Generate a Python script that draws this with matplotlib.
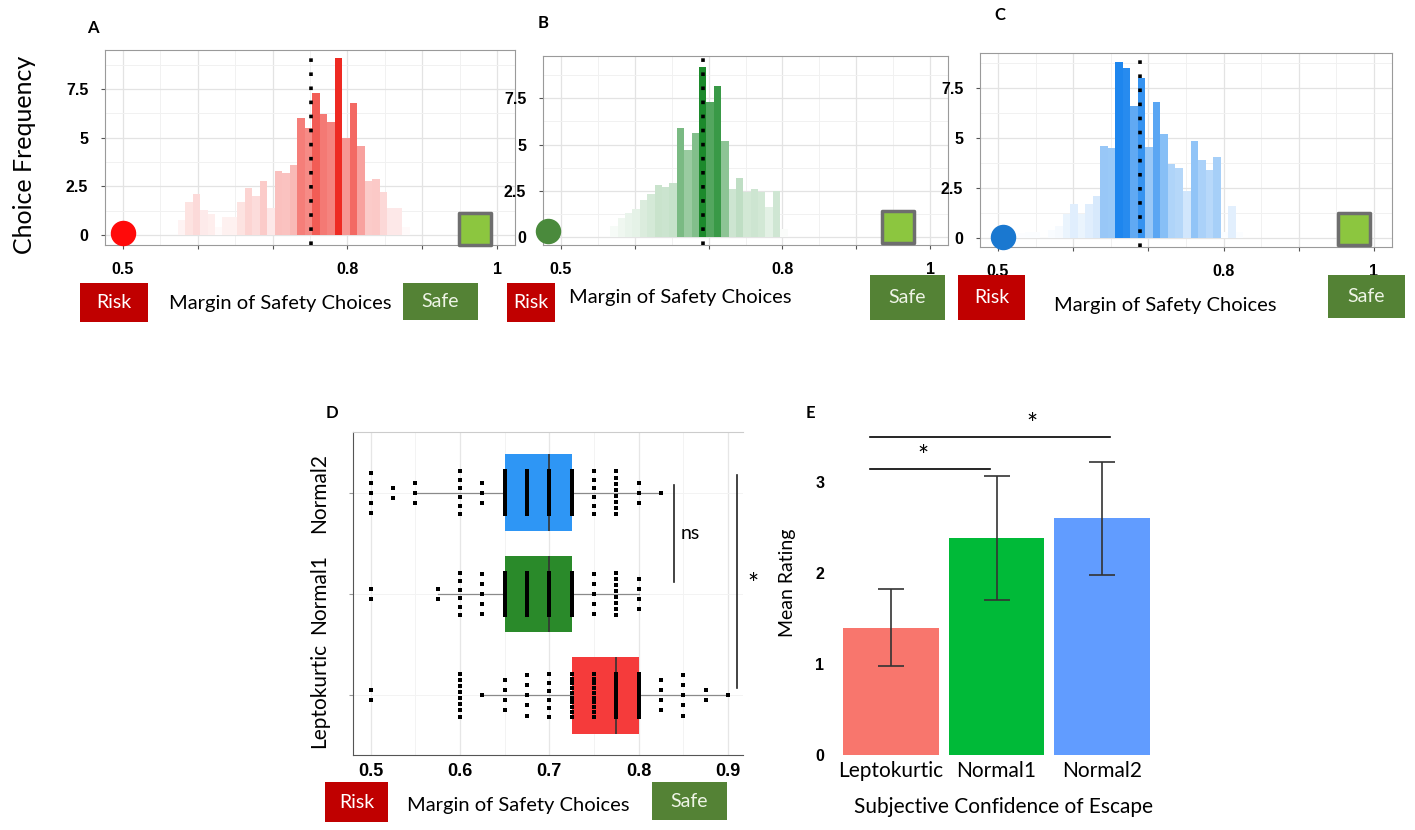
import numpy as np
import matplotlib
matplotlib.use("Agg")
import matplotlib.pyplot as plt
from matplotlib.patches import Rectangle
from matplotlib.colors import to_rgb
from matplotlib import font_manager

plt.rcParams['font.family'] = ['Lato', 'DejaVu Sans']
_names = {f.name for f in font_manager.fontManager.ttflist}
NUM_FONT = 'Liberation Sans Narrow' if 'Liberation Sans Narrow' in _names else 'Liberation Sans'

W, H = 1415, 830

# ---------- A, B, C : choice frequency histograms ----------
bin_w = 0.01
a_start = 0.578
a_counts = [0.8, 1.7, 2.1, 1.3, 1.1, 0.4, 0.95, 0.95, 1.7, 2.4, 2.0, 2.8, 1.4, 3.3, 3.2, 3.6,
            6.0, 5.5, 7.3, 6.2, 5.8, 9.1, 5.0, 6.8, 4.6, 2.8, 2.9, 2.2, 1.4, 1.4, 0.4]
b_start = 0.572
b_counts = [0.6, 1.0, 1.3, 1.5, 2.0, 2.3, 2.8, 2.7, 2.9, 5.9, 4.7, 5.6, 9.2, 7.3, 8.2, 5.2,
            2.6, 3.2, 2.4, 2.6, 2.4, 1.6, 2.5, 0.4]
c_start = 0.531
c_counts = [0.25, 0.3, 0.3, 0.0, 0.4, 0.6, 1.2, 1.7, 1.2, 1.7, 2.1, 4.6, 4.5, 8.8, 8.5, 6.6,
            8.0, 4.55, 6.8, 5.2, 3.7, 3.5, 2.35, 4.85, 3.9, 3.4, 4.05, 0.3, 1.6, 0.3]
hist_medians = [0.752, 0.692, 0.689]
hist_colors = ['#ee2a22', '#1c8a2c', '#1e86ee']
risk_dot_colors = ['#ff0a0a', '#4a8a3c', '#1a78d0']
risk_icon = [(0.5, 0.1), (0.483, 0.3), (0.507, 0.05)]
safe_icon = [(0.97, 0.3), (0.956, 0.54), (0.973, 0.45)]
x_ticks = [0.5, 0.6, 0.7, 0.8, 0.9, 1.0]
x_tick_labels = ['0.5', '', '', '0.8', '', '1']
y_ticks = [0, 2.5, 5, 7.5]
y_tick_labels = ['0', '2.5', '5', '7.5']

# ---------- D : box plot ----------
groups = ['Leptokurtic', 'Normal1', 'Normal2']
box_q1 = [0.725, 0.65, 0.65]
box_med = [0.775, 0.70, 0.70]
box_q3 = [0.80, 0.725, 0.725]
whisk_lo = [0.625, 0.575, 0.55]
whisk_hi = [0.90, 0.80, 0.825]
box_colors = ['#f53b3b', '#2a8a2a', '#2e96f5']
mos_levels = [0.5, 0.525, 0.55, 0.575, 0.6, 0.625, 0.65, 0.675, 0.7, 0.725, 0.75,
              0.775, 0.8, 0.825, 0.85, 0.875, 0.9]
lepto_n = [2, 0, 0, 0, 8, 1, 4, 5, 6, 10, 10, 14, 12, 4, 5, 2, 1]
normal1_n = [2, 0, 0, 2, 6, 5, 12, 12, 14, 12, 5, 8, 4, 0, 0, 0, 0]
normal2_n = [5, 2, 3, 0, 6, 3, 12, 12, 12, 12, 6, 8, 3, 1, 0, 0, 0]

# ---------- E : mean rating ----------
ratings = [1.40, 2.38, 2.60]
rating_err = [0.42, 0.68, 0.62]
rating_colors = ['#f8766d', '#00ba38', '#619cff']
e_sig = [(-0.2, 0.94, 3.14, 0.30), (-0.2, 2.08, 3.49, 1.34)]


fig = plt.figure(figsize=(W / 100, H / 100), dpi=100)


def px_axes(x0, y0, x1, y1):
    return fig.add_axes([x0 / W, 1 - y1 / H, (x1 - x0) / W, (y1 - y0) / H])


def ftext(x, y, s, **kw):
    fig.text(x / W, 1 - y / H, s, **kw)


def tag(x0, y0, x1, y1, label, fc, tc):
    fig.patches.append(Rectangle((x0 / W, 1 - y1 / H), (x1 - x0) / W, (y1 - y0) / H,
                                 transform=fig.transFigure, facecolor=fc, edgecolor='none'))
    ftext((x0 + x1) / 2, (y0 + y1) / 2, label, color=tc, ha='center', va='center', fontsize=14)


def num_labels(ax, axis='both'):
    lbls = []
    if axis in ('both', 'x'):
        lbls += ax.get_xticklabels()
    if axis in ('both', 'y'):
        lbls += ax.get_yticklabels()
    for l in lbls:
        l.set_fontfamily(NUM_FONT)
        l.set_fontweight('bold')


def hist_panel(box, start, counts, i, ylim):
    ax = px_axes(*box)
    counts = np.array(counts)
    centers = start + bin_w * np.arange(len(counts))
    t = (counts / counts.max()) ** 1.2
    rgb = np.array(to_rgb(hist_colors[i]))
    cols = [tuple(1 - ti * (1 - rgb)) for ti in t]
    ax.bar(centers, counts, width=bin_w, color=cols, linewidth=0, zorder=2)
    ax.axvline(hist_medians[i], color='k', lw=2.6, linestyle=(0, (1, 2.9)), zorder=3)
    ax.scatter(*risk_icon[i], s=300, color=risk_dot_colors[i], zorder=4, clip_on=False)
    ax.scatter(*safe_icon[i], s=560, marker='s', color='#8cc63f', edgecolor='#6e6e6e',
               linewidth=2.5, zorder=4, clip_on=False)
    ax.set_xlim(0.476, 1.024)
    ax.set_ylim(*ylim)
    ax.set_xticks(x_ticks)
    ax.set_xticklabels(x_tick_labels)
    ax.set_xticks(np.arange(0.55, 1.0, 0.1), minor=True)
    ax.set_yticks(y_ticks)
    ax.set_yticklabels(y_tick_labels)
    ax.set_yticks(np.arange(1.25, 9.5, 2.5), minor=True)
    ax.grid(which='major', color='#e3e3e3', lw=0.9, zorder=0)
    ax.grid(which='minor', color='#f1f1f1', lw=0.7, zorder=0)
    ax.set_axisbelow(True)
    ax.tick_params(which='minor', length=0)
    ax.tick_params(which='major', length=3, color='#555555', labelsize=11.5, pad=9)
    for s in ax.spines.values():
        s.set_color('#9a9a9a')
    num_labels(ax)
    return ax


hist_panel((105, 50, 515, 245), a_start, a_counts, 0, (-0.5, 9.5))
hist_panel((543, 56, 948, 245), b_start, b_counts, 1, (-0.45, 9.8))
hist_panel((980, 53, 1392, 247), c_start, c_counts, 2, (-0.45, 9.25))

ftext(25, 155, 'Choice Frequency', rotation=90, ha='center', va='center', fontsize=18)
for lx, ly, letter in [(93, 28, 'A'), (543, 23, 'B'), (1000, 15, 'C'), (332, 413, 'D'), (810, 413, 'E')]:
    ftext(lx, ly, letter, ha='center', va='center', fontsize=12, fontweight='bold')

RISK, SAFE = '#c00000', '#548235'
tag(80, 283, 148, 322, 'Risk', RISK, 'white')
ftext(280, 303, 'Margin of Safety Choices', ha='center', va='center', fontsize=14.5)
tag(403, 283, 478, 320, 'Safe', SAFE, '#eef4e6')
tag(507, 283, 555, 322, 'Risk', RISK, 'white')
ftext(680, 297, 'Margin of Safety Choices', ha='center', va='center', fontsize=14.5)
tag(870, 275, 945, 320, 'Safe', SAFE, '#eef4e6')
tag(958, 275, 1025, 320, 'Risk', RISK, 'white')
ftext(1165, 305, 'Margin of Safety Choices', ha='center', va='center', fontsize=14.5)
tag(1328, 275, 1405, 318, 'Safe', SAFE, '#eef4e6')

# ---------- D ----------
axd = px_axes(353, 432, 743, 755)
stats = [dict(med=box_med[g], q1=box_q1[g], q3=box_q3[g], whislo=whisk_lo[g],
              whishi=whisk_hi[g], fliers=[]) for g in range(3)]
bp = axd.bxp(stats, positions=[0, 1, 2], widths=0.76, orientation='horizontal',
             patch_artist=True, showcaps=False,
             boxprops=dict(linewidth=0),
             medianprops=dict(color='#333333', lw=1.2),
             whiskerprops=dict(color='#8a8a8a', lw=0.9), zorder=2)
for patch, c in zip(bp['boxes'], box_colors):
    patch.set_facecolor(c)
for g, counts in enumerate([lepto_n, normal1_n, normal2_n]):
    xs, ys = [], []
    for v, n in zip(mos_levels, counts):
        if n == 0:
            continue
        spread = min(0.21, 0.05 * (n - 1))
        for off in np.linspace(-spread, spread, n):
            xs.append(v)
            ys.append(g + off)
    axd.plot(xs, ys, 's', ms=2.3, mew=0, color='black', zorder=4, clip_on=False)
axd.set_xlim(0.48, 0.917)
axd.set_ylim(-0.59, 2.6)
axd.set_xticks([0.5, 0.6, 0.7, 0.8, 0.9])
axd.set_xticklabels(['0.5', '0.6', '0.7', '0.8', '0.9'])
axd.set_xticks([0.55, 0.65, 0.75, 0.85], minor=True)
axd.set_yticks([0, 1, 2])
axd.set_yticklabels(groups, rotation=90, va='center', fontsize=15)
axd.grid(axis='x', which='major', color='#e6e6e6', lw=0.9, zorder=0)
axd.grid(axis='x', which='minor', color='#f3f3f3', lw=0.7, zorder=0)
axd.grid(axis='y', color='#f3f3f3', lw=0.7, zorder=0)
axd.set_axisbelow(True)
axd.tick_params(which='minor', length=0)
axd.tick_params(axis='x', length=0, labelsize=13, pad=6)
axd.tick_params(axis='y', length=3, color='#999999', pad=14)
axd.spines['right'].set_visible(False)
axd.spines['top'].set_color('#cccccc')
axd.spines['left'].set_color('#555555')
axd.spines['bottom'].set_color('#555555')
num_labels(axd, 'x')
axd.plot([0.840, 0.840], [1.12, 2.08], color='#222222', lw=1.2, clip_on=False)
axd.text(0.858, 1.6, 'ns', fontsize=14, ha='center', va='center')
axd.plot([0.910, 0.910], [0.07, 2.18], color='#222222', lw=1.2, clip_on=False)
axd.text(0.928, 1.08, '*', fontsize=19, ha='center', va='center', clip_on=False)

tag(325, 782, 388, 822, 'Risk', RISK, 'white')
ftext(518, 805, 'Margin of Safety Choices', ha='center', va='center', fontsize=14.5)
tag(652, 782, 727, 820, 'Safe', SAFE, '#eef4e6')

# ---------- E ----------
axe = px_axes(830, 400, 1162, 755)
xpos = np.arange(len(groups))
axe.bar(xpos, ratings, width=0.91, color=rating_colors, zorder=2)
axe.errorbar(xpos, ratings, yerr=rating_err, fmt='none', ecolor='#333333', alpha=0.85,
             elinewidth=1.4, capsize=9.5, capthick=1.4, zorder=3)
for x0, x1, y, sx in e_sig:
    axe.plot([x0, x1], [y, y], color='black', lw=1.2, clip_on=False)
    axe.text(sx, y + 0.13, '*', fontsize=19, ha='center', va='center')
axe.set_xlim(-0.58, 2.57)
axe.set_ylim(0, 3.9)
axe.set_xticks(xpos)
axe.set_xticklabels(groups, fontsize=15)
axe.set_yticks([0, 1, 2, 3])
axe.set_yticklabels(['0', '1', '2', '3'])
axe.tick_params(length=0)
axe.tick_params(axis='x', pad=4)
axe.tick_params(axis='y', labelsize=11.5, pad=4)
num_labels(axe, 'y')
for s in axe.spines.values():
    s.set_visible(False)
ftext(787, 583, 'Mean Rating', rotation=90, ha='center', va='center', fontsize=14)
ftext(1003, 807, 'Subjective Confidence of Escape', ha='center', va='center', fontsize=15)

fig.savefig('out.png', dpi=100)
